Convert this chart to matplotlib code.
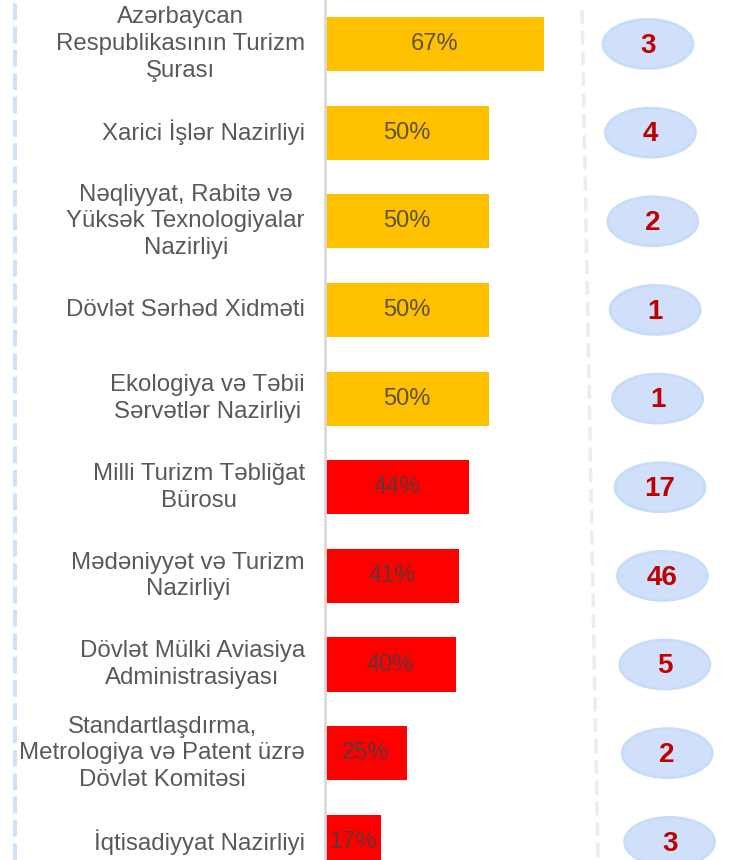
import matplotlib.pyplot as plt
from matplotlib.patches import Ellipse
from matplotlib.lines import Line2D

plt.rcParams['font.family'] = ['Liberation Sans', 'DejaVu Sans']

# data
labels = [
    "Azərbaycan\nRespublikasının Turizm\nŞurası",
    "Xarici İşlər Nazirliyi",
    "Nəqliyyat, Rabitə və\nYüksək Texnologiyalar\nNazirliyi",
    "Dövlət Sərhəd Xidməti",
    "Ekologiya və Təbii\nSərvətlər Nazirliyi",
    "Milli Turizm Təbliğat\nBürosu",
    "Mədəniyyət və Turizm\nNazirliyi",
    "Dövlət Mülki Aviasiya\nAdministrasiyası",
    "Standartlaşdırma,\nMetrologiya və Patent üzrə\nDövlət Komitəsi",
    "İqtisadiyyat Nazirliyi",
]
percents = [67, 50, 50, 50, 50, 44, 41, 40, 25, 17]
counts = [3, 4, 2, 1, 1, 17, 46, 5, 2, 3]

W, H = 729, 860
fig = plt.figure(figsize=(W / 100, H / 100), dpi=100)

# axes start at the grey axis line (x=325 px)
x0 = 325
px_per_unit = 3.27
row_px = 88.65
ax = fig.add_axes([x0 / W, 0, (W - x0) / W, 1])
ax.set_xlim(0, (W - x0) / px_per_unit)
ax.set_ylim(9.205, -0.496)
ax.axis('off')

yellow = '#ffc000'
red = '#ff0000'

for i, (lab, p, c) in enumerate(zip(labels, percents, counts)):
    col = yellow if p >= 50 else red
    ax.barh(i, p, height=0.61, color=col)
    ax.text(p / 2, i, f"{p}%", ha='center', va='center', fontsize=17,
            color='#404040', alpha=0.85)
    ax.text(-20 / px_per_unit, i, lab, ha='right', va='center',
            multialignment='center', fontsize=17.3, color='#595959',
            linespacing=1.27, clip_on=False)

    # bubble with the count
    ex = (648 + 2.4 * i - x0) / px_per_unit
    ell = Ellipse((ex, i), width=90 / px_per_unit, height=49 / row_px,
                  facecolor='#d0e0fb', edgecolor='#c6dcf8', lw=2,
                  clip_on=False)
    ax.add_patch(ell)
    ax.text(ex, i + 0.02, str(c), ha='center', va='center', fontsize=20,
            fontweight='bold', color='#c00000')

# grey axis line
fig.add_artist(Line2D([x0 / W, x0 / W], [0, 1], color='#d9d9d9', lw=2))

# dashed separators
fig.add_artist(Line2D([15 / W, 15 / W], [0, 1], color='#cfe2f8', lw=3,
                      dashes=(4, 1.6)))
fig.add_artist(Line2D([582 / W, 598 / W], [1 - 10 / H, 0], color='#ececec',
                      lw=2.5, dashes=(4, 2)))

fig.savefig('out.png', dpi=100)
